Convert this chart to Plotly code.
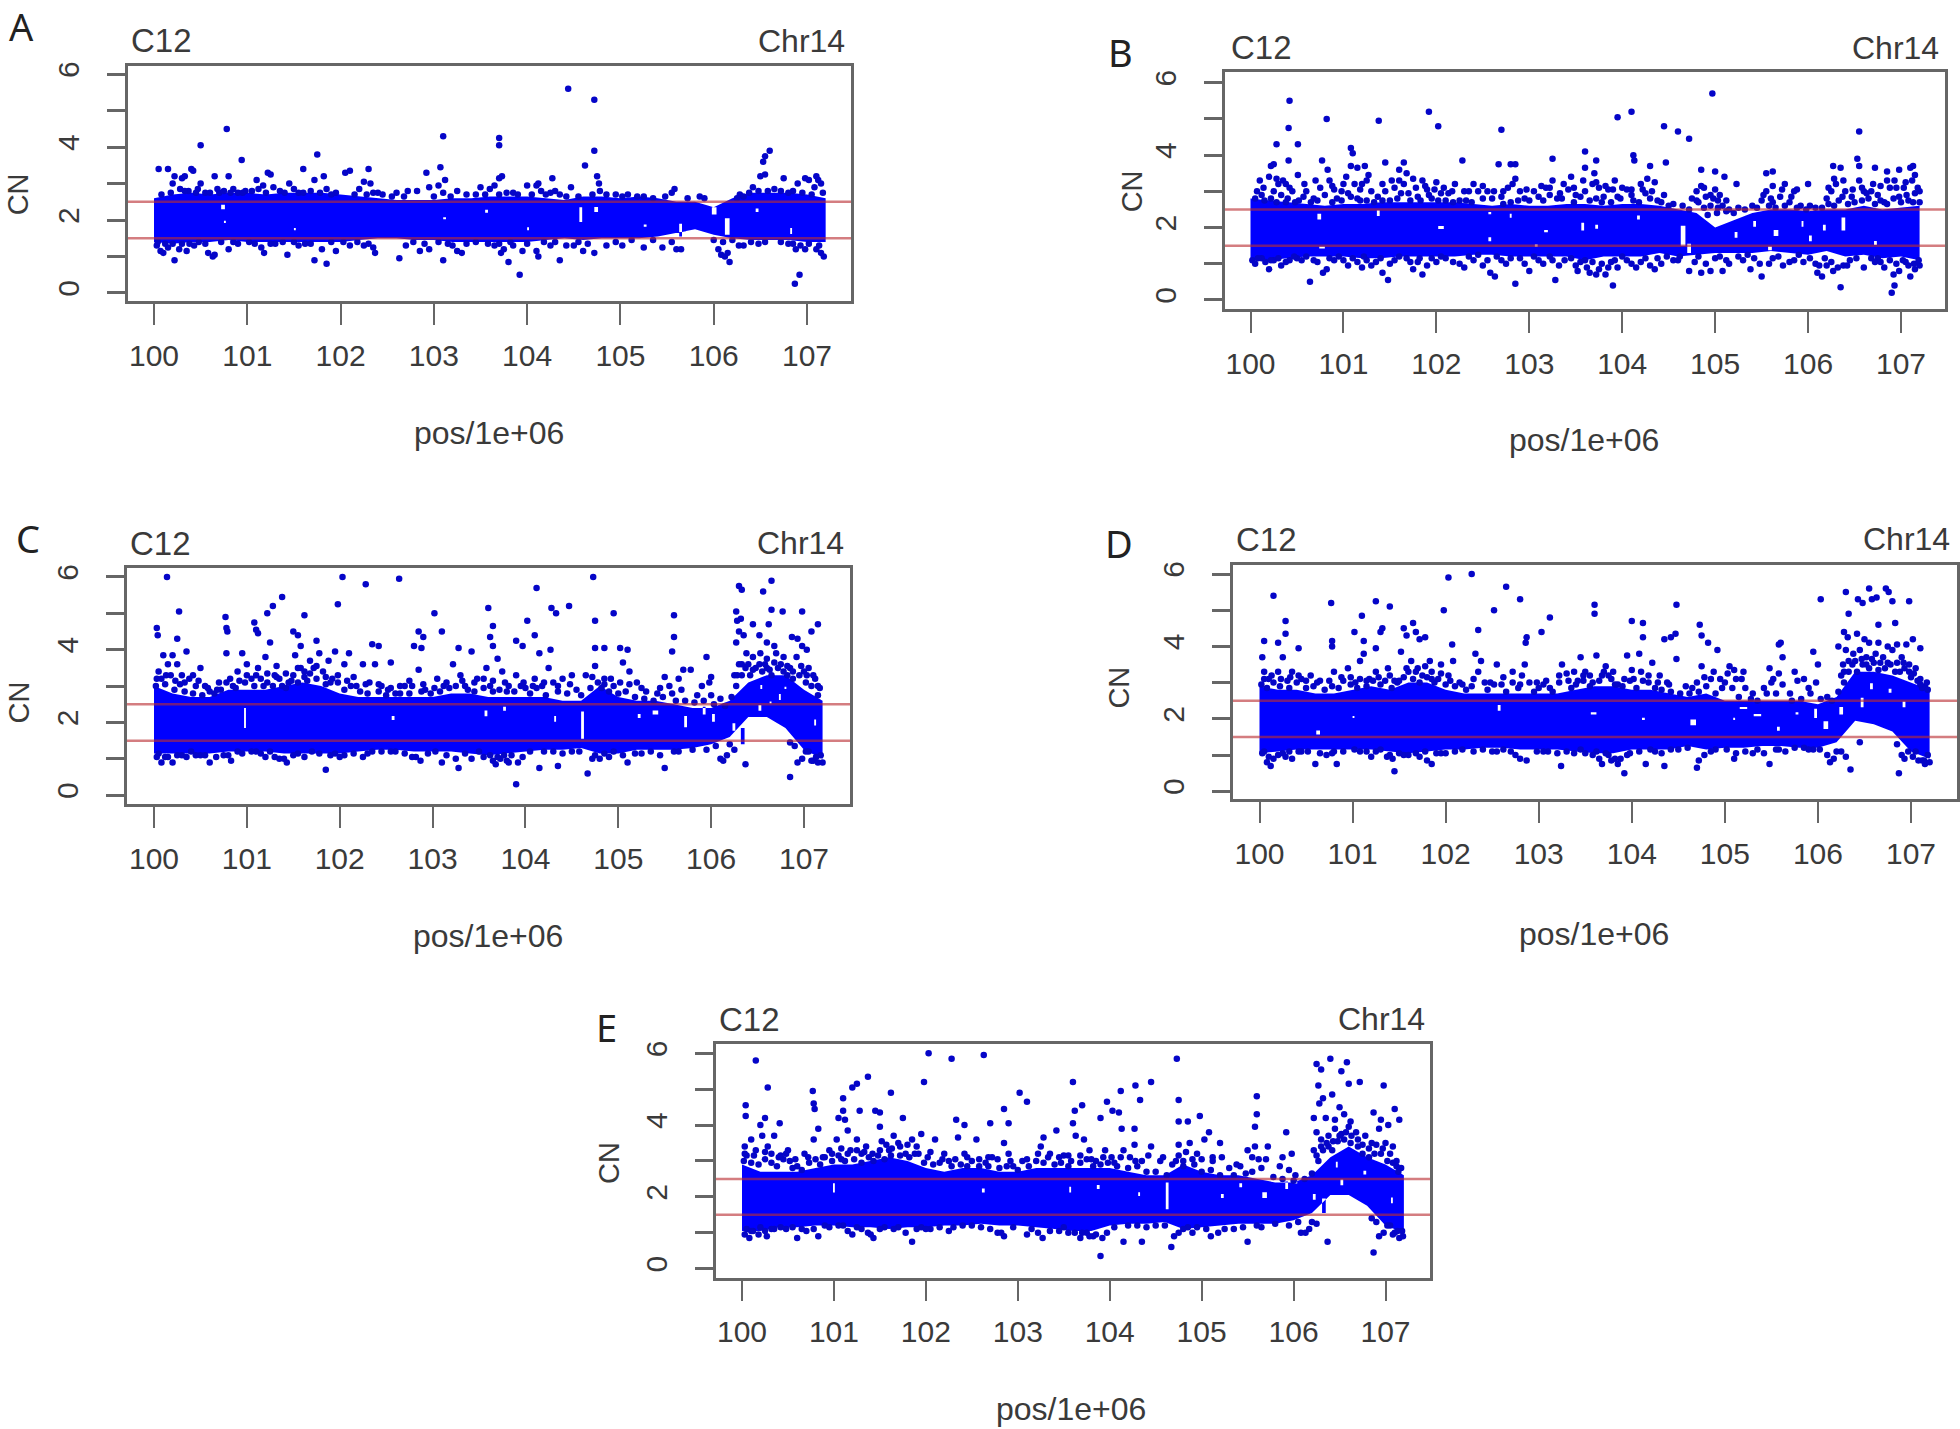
import plotly.graph_objects as go

PANELS = ["A", "B", "C", "D", "E"]
X_TICKS = [100, 101, 102, 103, 104, 105, 106, 107]
Y_TICKS = [0, 1, 2, 3, 4, 5, 6]
Y_TICK_TEXT = ["0", "", "2", "", "4", "", "6"]
THRESHOLDS = [1.5, 2.5]

# Solid core of each panel: too many overlapping points to read one by one,
# so its upper and lower edge were read at these positions.
BAND_X = [100.0,100.2,100.4,100.6,100.8,101.0,101.2,101.4,101.6,101.8,102.0,102.2,102.4,102.6,102.8,103.0,103.2,103.4,
          103.6,103.8,104.0,104.2,104.4,104.6,104.8,105.0,105.2,105.4,105.6,105.8,106.0,106.2,106.4,106.6,106.8,107.0,107.2]
A_hi = [2.6,2.7,2.75,2.7,2.75,2.75,2.7,2.75,2.75,2.75,2.7,2.65,2.6,2.55,2.55,2.55,2.6,2.6,2.65,2.65,2.65,2.6,2.55,2.65,2.65,2.6,2.65,2.6,2.5,2.5,2.35,2.6,2.75,2.75,2.75,2.7,2.6]
A_lo = [1.4,1.35,1.4,1.4,1.45,1.4,1.4,1.4,1.4,1.4,1.4,1.45,1.5,1.5,1.45,1.45,1.4,1.4,1.4,1.4,1.4,1.45,1.5,1.45,1.5,1.5,1.5,1.55,1.65,1.75,1.6,1.5,1.45,1.45,1.45,1.4,1.4]
B_hi = [2.8,2.75,2.7,2.65,2.6,2.65,2.65,2.7,2.7,2.7,2.7,2.7,2.65,2.6,2.65,2.6,2.6,2.65,2.65,2.6,2.65,2.65,2.6,2.5,2.4,2.0,2.2,2.4,2.5,2.5,2.45,2.5,2.5,2.6,2.5,2.55,2.6]
B_lo = [1.1,1.1,1.15,1.2,1.2,1.2,1.15,1.15,1.2,1.2,1.2,1.2,1.25,1.25,1.2,1.2,1.2,1.2,1.1,1.2,1.2,1.2,1.3,1.2,1.25,1.3,1.3,1.3,1.35,1.3,1.25,1.35,1.2,1.25,1.15,1.2,1.1]
C_hi = [3.0,2.8,2.7,2.7,2.9,2.9,2.9,3.0,3.1,3.0,2.8,2.7,2.7,2.7,2.7,2.7,2.8,2.8,2.7,2.7,2.7,2.7,2.6,2.6,3.0,2.7,2.6,2.6,2.5,2.4,2.4,2.6,3.1,3.3,3.3,2.9,2.6]
C_lo = [1.15,1.15,1.15,1.15,1.2,1.2,1.2,1.15,1.15,1.15,1.15,1.2,1.25,1.25,1.2,1.2,1.2,1.15,1.1,1.15,1.2,1.25,1.25,1.3,1.15,1.15,1.25,1.25,1.25,1.3,1.4,1.6,2.15,2.15,1.85,1.25,1.0]
D_hi = [2.9,2.8,2.8,2.7,2.7,2.8,2.9,2.8,3.0,3.0,2.8,2.7,2.7,2.7,2.7,2.7,2.7,2.8,2.9,2.9,2.8,2.8,2.7,2.6,2.7,2.5,2.5,2.5,2.5,2.5,2.4,2.6,3.3,3.3,3.2,3.0,2.8]
D_lo = [1.05,1.1,1.15,1.15,1.15,1.15,1.15,1.1,1.05,1.1,1.15,1.15,1.2,1.2,1.15,1.15,1.15,1.1,1.05,1.05,1.15,1.15,1.15,1.25,1.15,1.2,1.2,1.25,1.25,1.2,1.2,1.35,1.95,1.85,1.65,1.1,0.9]
E_hi = [2.9,2.7,2.7,2.7,2.8,2.9,2.9,3.0,3.1,3.0,2.8,2.7,2.8,2.8,2.7,2.7,2.8,2.8,2.8,2.8,2.8,2.7,2.6,2.6,2.9,2.7,2.6,2.6,2.5,2.4,2.4,2.6,3.1,3.4,3.1,2.9,2.6]
E_lo = [1.05,1.05,1.15,1.15,1.2,1.2,1.15,1.15,1.1,1.15,1.15,1.2,1.2,1.25,1.2,1.2,1.15,1.1,1.05,1.05,1.2,1.25,1.25,1.3,1.1,1.15,1.2,1.25,1.25,1.25,1.35,1.55,2.05,2.05,1.75,1.2,1.0]

# White gaps seen inside the core: (x left, x right, y low, y high)
A_gaps = [(105.63,105.66,1.55,1.9),(106.12,106.17,1.6,2.05),(104.56,104.59,1.95,2.35),(100.72,100.76,2.3,2.42),(105.98,106.03,2.15,2.35),(104.72,104.76,2.22,2.36),(103.55,103.58,2.2,2.28),(104.0,104.02,1.72,1.8),(103.1,103.13,2.02,2.08),(101.5,101.52,1.72,1.78),(100.75,100.77,1.92,1.98),(106.45,106.48,2.22,2.32),(106.82,106.84,1.62,1.78),(105.25,105.28,1.82,1.88)]
B_gaps = [(104.63,104.68,1.5,2.05),(104.7,104.74,1.3,1.55),(102.02,102.08,1.96,2.04),(100.72,100.76,2.22,2.38),(105.63,105.68,1.77,1.93),(106.36,106.4,1.92,2.28),(105.57,105.61,1.37,1.48),(103.16,103.2,1.87,1.93),(100.74,100.8,1.42,1.48),(101.36,101.39,2.32,2.48),(103.56,103.59,1.92,2.13),(103.71,103.74,1.97,2.08),(102.56,102.59,1.62,1.73),(102.56,102.59,2.37,2.43),(102.79,102.81,2.27,2.38),(106.01,106.04,1.62,1.78),(105.93,105.95,2.02,2.18),(105.21,105.24,1.72,1.88),(105.41,105.44,2.02,2.18),(106.71,106.74,1.52,1.63),(106.16,106.19,1.92,2.08),(103.06,103.09,1.47,1.53),(104.16,104.19,2.22,2.33)]
C_gaps = [(104.6,104.63,1.55,2.3),(100.97,100.99,1.85,2.4),(106.32,106.36,1.4,1.85),(106.23,106.26,1.77,1.98),(105.21,105.24,2.12,2.23),(105.37,105.43,2.22,2.33),(105.71,105.74,1.87,2.18),(105.91,105.94,2.22,2.43),(106.01,106.04,2.02,2.23),(102.56,102.59,2.07,2.18),(103.56,103.59,2.17,2.33),(103.76,103.79,2.32,2.43),(104.31,104.33,2.02,2.18),(106.51,106.54,2.32,2.48),(106.73,106.75,2.62,2.78),(106.53,106.55,2.92,3.03),(106.79,106.81,2.92,2.98),(106.63,106.65,2.52,2.58),(107.11,107.13,1.92,2.08)]
D_gaps = [(100.61,100.65,1.57,1.68),(103.56,103.62,2.12,2.18),(104.63,104.69,1.82,1.98),(105.16,105.24,2.27,2.33),(105.09,105.11,1.97,2.03),(105.31,105.39,2.07,2.13),(105.56,105.59,1.67,1.78),(105.76,105.79,2.12,2.18),(105.96,105.99,2.02,2.28),(106.06,106.11,1.72,1.93),(106.23,106.27,2.12,2.33),(106.46,106.49,2.32,2.58),(106.76,106.79,2.72,2.83),(106.56,106.59,2.82,2.98),(106.91,106.94,2.32,2.48),(102.56,102.59,2.22,2.38),(101.0,101.02,2.02,2.08),(104.11,104.14,1.97,2.03)]
E_gaps = [(104.61,104.64,1.65,2.4),(105.21,105.24,1.97,2.08),(105.41,105.44,2.27,2.38),(105.66,105.71,1.97,2.13),(105.91,105.94,2.22,2.43),(106.01,106.04,2.37,2.48),(106.21,106.24,1.92,2.08),(106.31,106.35,1.55,1.95),(106.51,106.54,2.32,2.48),(106.46,106.48,2.82,2.98),(106.76,106.79,2.62,2.73),(100.99,101.01,2.12,2.38),(103.56,103.58,2.12,2.28),(102.61,102.64,2.12,2.23),(103.86,103.89,2.22,2.33),(104.31,104.33,2.02,2.13),(107.06,107.08,1.82,1.98)]

# Separate points: (position / 1e6, CN)
A_pts = [(104.44,5.6),(104.72,5.3),(100.78,4.5),(103.1,4.3),(103.7,4.25),(103.7,4.05),(100.5,4.05),(104.72,3.9),(106.6,3.9),(106.55,3.75),(106.53,3.6),(101.75,3.8),(100.94,3.65),(103.07,3.45),(104.62,3.5),
(100.05,3.4),(100.15,3.4),(100.2,3.0),(100.22,3.2),(100.28,2.85),(100.3,3.15),(100.33,3.2),(100.4,3.4),(100.42,3.35),(100.37,2.8),(100.47,2.85),(100.5,3.0),(100.55,2.75),(100.65,3.2),(100.7,2.75),(100.75,2.8),(100.8,3.2),(100.85,2.85),(100.9,2.75),(100.98,2.8),(101.1,3.1),(101.12,2.85),(101.17,2.95),(101.22,3.3),(101.25,3.25),(101.28,2.9),(101.35,2.8),(101.45,3.0),(101.5,2.85),(101.55,2.75),(101.6,3.4),(101.72,3.1),(101.82,3.2),(101.85,2.85),(101.95,2.75),(102.05,3.3),(102.1,3.35),(102.2,2.85),(102.25,3.05),(102.3,3.4),(102.32,3.0),(102.35,2.75),(102.45,2.7),(102.6,2.75),(102.72,2.8),(102.82,2.8),(102.92,3.3),(102.95,2.9),(103.05,2.95),(103.12,3.1),(103.1,2.75),(103.25,2.8),(103.5,2.9),(103.6,2.85),(103.65,2.95),(103.7,3.15),(103.73,3.2),(103.78,2.75),(103.9,2.7),(104.0,2.95),(104.1,2.95),(104.12,3.0),(104.15,2.8),(104.27,3.15),(104.3,2.8),(104.25,2.75),(104.47,2.9),(104.55,2.65),(104.75,3.2),(104.77,3.0),(104.78,2.8),(104.95,2.7),(105.08,2.7),(105.25,2.65),(105.55,2.75),(105.58,2.85),(105.85,2.65),(106.28,2.7),(106.32,2.65),(106.42,2.9),(106.5,3.2),(106.55,3.25),(106.65,2.85),(106.75,3.15),(106.85,2.8),(106.9,3.0),(106.98,3.15),(107.02,3.1),(107.1,3.2),(107.12,3.1),(107.15,3.0),(107.08,2.9),(107.17,2.75),
(100.03,1.3),(100.07,1.15),(100.1,1.1),(100.15,1.25),(100.22,0.9),(100.27,1.2),(100.35,1.15),(100.43,1.3),(100.58,1.1),(100.63,1.0),(100.65,1.05),(100.8,1.2),(100.9,1.35),(101.15,1.25),(101.18,1.1),(101.3,1.35),(101.43,1.05),(101.55,1.3),(101.72,0.9),(101.85,0.8),(101.8,1.2),(101.95,1.15),(102.1,1.3),(102.25,1.3),(102.35,1.25),(102.37,1.1),(102.63,0.95),(102.7,1.3),(102.85,1.15),(102.95,1.2),(103.1,0.9),(103.2,1.3),(103.25,1.15),(103.3,1.1),(103.65,1.3),(103.72,1.1),(103.8,0.85),(103.75,1.2),(103.92,0.5),(103.85,1.3),(103.95,1.15),(104.1,1.15),(104.12,1.0),(104.25,1.3),(104.35,0.9),(104.42,1.3),(104.5,1.3),(104.6,1.15),(104.72,1.1),(104.85,1.3),(105.02,1.3),(105.25,1.25),(105.45,1.25),(105.6,1.2),(105.65,1.2),(106.05,1.2),(106.08,1.05),(106.12,1.0),(106.15,1.1),(106.17,0.85),(106.27,1.3),(106.32,1.3),(106.48,1.35),(106.8,1.35),(106.88,1.2),(106.93,1.3),(106.98,1.2),(106.87,0.25),(106.92,0.5),(107.1,1.2),(107.15,1.1),(107.18,1.0),
(100.08,2.7),(100.18,2.75),(100.33,2.8),(100.45,2.75),(100.6,2.75),(100.68,2.85),(100.82,2.75),(100.95,2.75),(101.05,2.8),(101.2,2.75),(101.4,2.75),(101.6,2.75),(101.68,2.8),(101.78,2.75),(101.9,2.7),(102.15,2.7),(102.28,2.7),(102.4,2.75),(102.55,2.65),(102.68,2.65),(103.0,2.65),(103.18,2.65),(103.35,2.7),(103.45,2.7),(103.55,2.7),(103.7,2.7),(103.85,2.75),(104.05,2.7),(104.2,2.7),(104.35,2.7),(104.42,2.65),(104.7,2.7),(104.85,2.7),(105.02,2.65),(105.18,2.65),(105.35,2.6),(105.48,2.65),(105.72,2.6),(105.9,2.6),(106.25,2.6),(106.38,2.75),(106.48,2.8),(106.58,2.8),(106.72,2.8),(106.8,2.75),(106.95,2.75),(107.05,2.7),
(100.04,1.4),(100.12,1.35),(100.2,1.35),(100.3,1.35),(100.38,1.35),(100.48,1.4),(100.55,1.35),(100.72,1.4),(100.85,1.4),(101.02,1.4),(101.08,1.35),(101.25,1.35),(101.38,1.4),(101.5,1.4),(101.62,1.35),(101.68,1.35),(101.9,1.4),(102.03,1.4),(102.18,1.4),(102.3,1.35),(102.78,1.4),(102.9,1.35),(103.05,1.4),(103.15,1.35),(103.35,1.35),(103.45,1.4),(103.58,1.35),(103.7,1.35),(103.82,1.4),(104.0,1.35),(104.18,1.4),(104.3,1.4),(104.55,1.4),(104.65,1.35),(104.95,1.4),(105.12,1.45),(105.35,1.45),(105.55,1.4),(106.0,1.45),(106.1,1.4),(106.2,1.45),(106.4,1.4),(106.55,1.4),(106.72,1.4),(106.85,1.35),(107.02,1.35),(107.13,1.3)]

B_pts = [(100.42,5.5),(100.41,4.75),(100.28,4.3),(100.51,4.3),(100.41,3.85),(100.22,3.7),(100.25,3.75),(100.51,3.45),(100.77,3.85),(100.82,5.0),(100.83,3.6),(101.08,4.2),(101.1,4.05),(101.08,3.7),(101.15,3.65),(101.23,3.7),(101.27,3.45),(101.38,4.95),(101.45,3.8),(101.65,3.8),(101.6,3.6),(101.92,5.2),(102.02,4.8),(102.28,3.85),(102.67,3.75),(102.7,4.7),(102.8,3.75),(102.85,3.75),(103.25,3.9),(103.6,4.1),(103.6,3.65),(103.72,3.85),(103.7,3.5),(103.95,5.05),(104.1,5.2),(104.12,4.0),(104.13,3.85),(104.3,3.7),(104.45,4.8),(104.47,3.8),(104.6,4.65),(104.72,4.45),(104.85,3.6),(104.97,5.7),(105.0,3.55),(105.1,3.4),(105.23,3.2),(105.55,3.5),(105.62,3.55),(105.75,3.2),(105.88,3.05),(106.0,3.2),(106.27,3.7),(106.35,3.65),(106.55,4.65),(106.53,3.9),(106.55,3.7),(106.72,3.65),(106.85,3.55),(106.98,3.6),(107.1,3.65),(107.13,3.7),(107.15,3.45),
(100.05,2.8),(100.07,3.0),(100.1,3.3),(100.15,2.75),(100.2,3.4),(100.25,3.0),(100.3,3.2),(100.33,2.9),(100.35,3.3),(100.42,3.1),(100.4,2.8),(100.45,3.0),(100.52,2.75),(100.6,3.0),(100.68,2.8),(100.75,3.1),(100.8,2.9),(100.85,3.3),(100.9,3.05),(100.93,2.8),(101.0,3.2),(101.05,2.95),(101.12,3.2),(101.15,2.8),(101.2,3.2),(101.3,3.0),(101.37,2.85),(101.45,3.0),(101.5,2.75),(101.55,3.1),(101.6,3.3),(101.65,3.2),(101.7,2.95),(101.75,3.35),(101.8,2.85),(101.85,3.3),(101.9,3.05),(101.95,2.8),(102.0,3.25),(102.05,2.95),(102.1,2.75),(102.2,3.2),(102.25,2.75),(102.3,3.0),(102.4,3.2),(102.45,3.0),(102.55,3.0),(102.6,2.8),(102.7,2.85),(102.77,3.1),(102.8,2.7),(102.85,3.35),(102.9,3.0),(102.95,2.8),(103.05,3.0),(103.1,2.85),(103.18,3.1),(103.25,3.3),(103.3,2.8),(103.37,3.2),(103.42,3.05),(103.45,3.4),(103.5,2.9),(103.6,3.0),(103.65,2.75),(103.68,3.2),(103.75,3.1),(103.8,2.85),(103.85,3.05),(103.92,3.3),(103.98,2.8),(104.05,3.05),(104.12,2.75),(104.2,3.2),(104.25,2.95),(104.27,3.35),(104.32,3.0),(104.38,2.75),(104.45,2.9),(104.55,2.65),(104.75,2.8),(104.8,3.0),(104.85,3.15),(104.9,2.85),(104.95,2.6),(105.0,3.05),(105.05,2.9),(105.08,2.6),(105.02,2.4),(104.92,2.35),(105.12,2.45),(105.25,2.55),(105.4,2.6),(105.5,2.75),(105.55,3.0),(105.6,2.8),(105.65,2.55),(105.7,2.85),(105.8,2.7),(105.85,3.0),(105.92,2.6),(106.02,2.6),(106.2,2.8),(106.25,3.0),(106.3,3.2),(106.33,2.75),(106.4,3.0),(106.5,2.7),(106.55,3.3),(106.6,3.0),(106.65,2.8),(106.7,3.2),(106.75,2.9),(106.82,2.7),(106.88,3.1),(106.93,3.3),(106.98,2.85),(107.03,3.1),(107.08,2.75),(107.12,3.3),(107.18,3.1),(107.2,2.7),
(100.02,1.1),(100.05,1.0),(100.12,1.15),(100.2,0.85),(100.25,1.1),(100.33,0.95),(100.42,1.1),(100.5,1.15),(100.64,0.5),(100.68,1.1),(100.78,0.75),(100.82,0.85),(100.9,1.1),(101.05,0.95),(101.1,1.15),(101.2,0.9),(101.25,1.1),(101.3,0.95),(101.42,0.75),(101.48,0.55),(101.5,1.0),(101.6,1.2),(101.75,0.85),(101.85,0.7),(101.8,1.05),(101.9,0.95),(102.0,1.05),(102.1,1.15),(102.25,1.0),(102.3,0.9),(102.4,1.1),(102.5,0.95),(102.58,0.75),(102.63,0.65),(102.7,1.1),(102.85,0.45),(102.8,1.15),(102.95,1.0),(103.0,0.8),(103.1,1.1),(103.25,1.1),(103.28,0.55),(103.32,0.95),(103.5,0.95),(103.52,0.8),(103.6,1.1),(103.65,0.75),(103.72,0.7),(103.78,1.0),(103.82,0.7),(103.9,0.4),(103.88,1.05),(103.95,0.9),(104.05,1.1),(104.15,0.9),(104.25,1.15),(104.35,0.85),(104.42,1.0),(104.55,1.1),(104.62,1.2),(104.72,0.8),(104.85,0.75),(104.9,1.0),(104.95,0.8),(105.0,1.15),(105.08,0.8),(105.15,1.0),(105.25,1.2),(105.38,0.85),(105.5,0.65),(105.48,1.0),(105.62,1.15),(105.73,0.95),(105.85,1.1),(105.95,1.05),(106.08,1.0),(106.1,0.75),(106.15,0.65),(106.2,0.95),(106.27,0.8),(106.35,0.35),(106.38,0.95),(106.45,1.1),(106.6,0.9),(106.75,1.15),(106.82,0.9),(106.9,0.2),(106.93,0.4),(106.92,0.7),(106.98,0.8),(107.05,1.05),(107.1,0.65),(107.15,0.85),(107.2,0.95),
(100.12,2.9),(100.22,2.8),(100.28,2.7),(100.38,2.7),(100.48,2.7),(100.57,2.85),(100.65,2.7),(100.72,2.75),(100.88,2.7),(100.98,2.75),(101.08,2.85),(101.18,2.75),(101.25,2.75),(101.33,2.7),(101.42,2.75),(101.58,2.8),(101.62,2.95),(101.72,2.75),(101.83,2.75),(101.92,2.9),(102.02,2.75),(102.13,2.95),(102.18,2.7),(102.32,2.75),(102.38,2.7),(102.5,2.8),(102.62,3.0),(102.72,2.65),(102.88,2.75),(103.0,2.75),(103.15,2.75),(103.22,2.9),(103.35,2.8),(103.48,2.7),(103.55,2.85),(103.72,2.8),(103.78,2.7),(103.88,2.7),(103.95,2.85),(104.1,2.9),(104.18,2.7),(104.3,2.8),(104.42,2.7),(104.5,2.6),(104.65,2.6),(104.72,2.5),(104.82,2.7),(104.88,2.55),(104.98,2.8),(105.03,2.55),(105.15,2.5),(105.2,2.4),(105.32,2.5),(105.45,2.55),(105.58,2.6),(105.62,2.7),(105.75,2.6),(105.88,2.55),(105.98,2.5),(106.08,2.55),(106.15,2.55),(106.22,2.65),(106.28,2.6),(106.37,2.85),(106.43,2.65),(106.47,2.85),(106.58,2.75),(106.63,2.95),(106.72,2.65),(106.78,2.75),(106.85,2.65),(106.92,2.8),(107.0,2.7),(107.06,2.9),(107.13,2.7),
(100.08,1.15),(100.16,1.05),(100.22,1.1),(100.3,1.15),(100.38,1.05),(100.47,1.2),(100.55,1.1),(100.6,1.2),(100.72,1.05),(100.85,1.15),(100.95,1.2),(101.0,1.1),(101.15,1.05),(101.22,1.2),(101.35,1.05),(101.4,1.15),(101.55,1.1),(101.68,1.15),(101.72,1.05),(101.82,1.15),(101.95,1.15),(102.05,1.2),(102.18,1.05),(102.35,1.2),(102.45,1.25),(102.55,1.1),(102.65,1.2),(102.75,1.0),(102.9,1.15),(103.05,1.2),(103.15,1.0),(103.22,1.2),(103.38,1.1),(103.45,1.15),(103.55,1.05),(103.62,0.9),(103.68,1.05),(103.75,0.85),(103.85,0.9),(103.92,1.1),(104.0,1.2),(104.1,1.0),(104.2,1.05),(104.3,0.95),(104.38,1.15),(104.48,1.2),(104.6,1.1),(104.78,1.05),(104.82,1.2),(105.05,1.2),(105.12,1.1),(105.3,1.1),(105.35,1.25),(105.42,1.15),(105.58,1.0),(105.68,1.2),(105.8,1.05),(105.9,1.25),(106.02,1.15),(106.12,0.95),(106.18,1.15),(106.25,1.05),(106.32,0.9),(106.42,0.95),(106.52,1.15),(106.68,1.15),(106.72,1.05),(106.78,1.05),(106.88,1.1),(106.95,1.0),(107.02,1.1),(107.08,0.95),(107.14,1.0),(107.19,1.1)]

C_pts = [(100.14,6.0),(102.03,6.0),(102.28,5.8),(102.64,5.95),(104.73,6.0),(106.56,5.6),(106.65,5.9),(106.3,5.75),(106.33,5.65),(104.12,5.7),(100.27,5.05),(101.38,5.45),(101.28,5.2),(101.22,5.0),(101.62,4.95),(101.98,5.25),(103.02,5.0),(103.6,5.15),(104.28,5.15),(104.33,5.0),(104.47,5.2),(104.75,4.8),(104.95,5.0),(105.6,4.95),(106.27,5.05),(106.32,4.85),(106.65,5.1),(106.77,5.05),(106.98,5.05),(100.03,4.6),(100.04,4.4),(100.77,4.9),(100.78,4.6),(100.79,4.5),(101.08,4.75),(101.1,4.55),(101.12,4.45),(100.25,4.3),(101.5,4.5),(101.55,4.4),(101.75,4.25),(101.58,4.1),(102.35,4.15),(102.42,4.1),(102.85,4.5),(102.9,4.35),(102.8,4.1),(102.88,4.05),(103.1,4.5),(103.65,4.65),(103.62,4.35),(103.65,4.1),(103.9,4.25),(103.97,4.1),(104.02,4.8),(104.1,4.4),(104.15,3.9),(104.27,4.0),(104.75,4.05),(104.85,4.05),(105.02,4.05),(105.1,4.0),(105.6,4.35),(105.58,3.95),(106.28,4.8),(106.3,4.5),(106.27,4.2),(106.35,4.4),(106.45,4.7),(106.52,4.4),(106.62,4.7),(106.6,4.2),(106.68,4.1),(106.87,4.35),(106.93,4.3),(106.98,4.1),(107.03,4.0),(107.08,4.5),(107.15,4.7),
(100.05,3.4),(100.08,3.2),(100.1,3.85),(100.15,3.6),(100.2,3.85),(100.18,3.3),(100.25,3.6),(100.3,3.3),(100.35,3.95),(100.38,3.2),(100.45,3.0),(100.5,3.5),(100.55,3.0),(100.6,2.85),(100.7,3.1),(100.78,3.9),(100.82,3.2),(100.85,3.0),(100.9,3.4),(100.95,3.9),(101.0,3.6),(101.05,3.2),(101.12,3.5),(101.18,3.0),(101.2,3.8),(101.25,4.2),(101.3,3.3),(101.32,3.55),(101.38,3.0),(101.45,3.1),(101.52,3.85),(101.58,3.5),(101.62,3.25),(101.68,3.7),(101.72,3.5),(101.78,3.9),(101.82,3.4),(101.88,3.7),(101.92,3.2),(101.95,3.95),(102.05,3.6),(102.1,3.9),(102.18,3.0),(102.25,3.6),(102.32,3.1),(102.38,3.6),(102.45,3.0),(102.52,2.9),(102.55,3.65),(102.6,2.8),(102.7,3.0),(102.78,3.0),(102.85,3.45),(102.92,2.9),(103.05,3.2),(103.12,3.0),(103.22,3.6),(103.28,4.05),(103.3,3.3),(103.35,3.0),(103.42,3.95),(103.48,3.2),(103.58,3.5),(103.62,3.0),(103.7,3.75),(103.75,3.4),(103.82,3.0),(103.9,3.3),(104.0,2.95),(104.1,3.2),(104.18,3.0),(104.25,3.5),(104.3,3.1),(104.4,3.2),(104.5,3.3),(104.55,2.9),(104.65,3.3),(104.75,3.55),(104.78,3.1),(104.85,3.2),(104.95,3.0),(105.05,3.65),(105.12,3.4),(105.2,3.1),(105.3,2.85),(105.42,2.8),(105.5,3.25),(105.55,3.0),(105.65,3.2),(105.7,3.45),(105.78,3.45),(105.9,3.0),(105.98,3.1),(106.0,3.25),(105.95,3.8),(106.0,2.75),(106.1,2.65),(106.25,3.3),(106.3,3.6),(106.38,3.9),(106.45,3.8),(106.53,3.9),(106.6,3.75),(106.7,3.9),(106.78,3.8),(106.85,3.5),(106.92,3.8),(107.0,3.4),(107.05,3.5),(107.12,3.2),(107.15,3.0),
(100.05,1.15),(100.08,0.9),(100.12,1.05),(100.2,0.9),(100.3,1.1),(100.4,1.2),(100.5,1.1),(100.6,0.9),(100.75,1.1),(100.83,0.95),(100.9,1.2),(101.1,1.2),(101.2,1.05),(101.25,1.2),(101.35,1.0),(101.43,0.9),(101.55,1.15),(101.7,1.2),(101.85,0.7),(101.95,1.15),(102.05,1.1),(102.25,1.05),(102.35,1.2),(102.6,1.2),(102.82,1.05),(102.87,0.95),(103.03,1.2),(103.1,0.9),(103.25,1.0),(103.28,0.75),(103.5,1.2),(103.62,1.1),(103.68,0.85),(103.73,1.0),(103.77,1.1),(103.82,0.9),(103.9,0.3),(103.92,0.9),(104.15,0.75),(104.35,0.8),(104.3,1.2),(104.5,1.2),(104.67,0.6),(104.72,1.0),(104.85,1.15),(104.95,1.2),(105.1,0.9),(105.25,1.15),(105.5,0.75),(105.6,1.2),(106.1,1.0),(106.13,0.95),(106.17,1.1),(106.25,1.25),(106.37,0.85),(106.85,0.5),(106.93,0.9),(106.98,1.0),(107.05,1.2),(107.1,0.95),(107.15,0.9),(107.18,1.1),
(100.02,3.0),(100.12,3.05),(100.22,2.9),(100.28,3.05),(100.33,2.85),(100.42,2.8),(100.52,2.75),(100.65,2.8),(100.72,2.9),(100.88,2.95),(100.98,3.1),(101.08,3.0),(101.15,3.2),(101.22,3.1),(101.28,3.0),(101.35,3.2),(101.42,2.95),(101.48,3.15),(101.55,3.1),(101.65,3.15),(101.75,3.2),(101.85,3.05),(101.9,3.1),(101.98,3.1),(102.05,2.9),(102.12,3.0),(102.22,2.85),(102.3,2.8),(102.42,2.85),(102.5,2.75),(102.65,2.8),(102.75,2.8),(102.88,2.85),(102.98,2.8),(103.08,2.85),(103.18,2.95),(103.25,3.0),(103.38,2.9),(103.45,2.85),(103.55,2.95),(103.65,2.85),(103.72,2.9),(103.8,2.85),(103.88,2.85),(103.95,3.0),(104.05,2.8),(104.12,2.95),(104.22,2.75),(104.35,2.85),(104.45,2.8),(104.6,2.75),(104.7,2.95),(104.82,2.95),(104.9,2.85),(105.0,2.8),(105.08,2.85),(105.18,2.7),(105.28,2.65),(105.38,2.6),(105.48,2.7),(105.58,2.8),(105.62,2.6),(105.72,2.6),(105.82,2.55),(105.92,2.6),(106.03,2.5),(106.15,2.45),(106.22,2.7),(106.27,3.0),(106.33,3.3),(106.37,3.5),(106.42,3.3),(106.48,3.5),(106.55,3.4),(106.6,3.5),(106.65,3.3),(106.72,3.5),(106.78,3.4),(106.82,3.3),(106.88,3.2),(106.95,3.3),(107.02,3.1),(107.08,3.0),(107.15,2.75),
(100.03,1.05),(100.15,1.05),(100.25,1.1),(100.35,1.05),(100.45,1.1),(100.55,1.1),(100.67,1.05),(100.8,1.1),(100.95,1.15),(101.05,1.2),(101.15,1.15),(101.3,1.05),(101.4,1.0),(101.5,1.1),(101.62,1.05),(101.78,1.15),(101.9,1.1),(102.0,1.05),(102.15,1.15),(102.3,1.15),(102.45,1.2),(102.55,1.2),(102.7,1.15),(102.78,1.05),(102.95,1.15),(103.15,1.1),(103.35,1.15),(103.42,1.0),(103.55,1.05),(103.65,0.95),(103.7,1.05),(103.8,0.95),(103.85,1.1),(103.97,1.05),(104.05,1.2),(104.2,1.2),(104.4,1.15),(104.58,1.2),(104.75,1.1),(104.8,1.0),(104.9,1.05),(105.05,1.1),(105.18,1.15),(105.35,1.2),(105.45,1.1),(105.65,1.2),(105.8,1.25),(105.95,1.25),(106.05,1.35),(106.2,1.4),(106.85,1.45),(106.9,1.35),(107.02,1.2),(107.08,0.95),(107.13,1.05),(107.2,0.9)]

D_pts = [(102.28,6.0),(102.03,5.9),(102.65,5.65),(100.15,5.4),(100.77,5.2),(101.25,5.25),(101.4,5.1),(101.98,5.0),(102.52,5.0),(102.8,5.3),(103.6,5.15),(103.6,4.9),(104.48,5.15),(106.03,5.3),(106.3,5.5),(106.55,5.6),(106.73,5.6),(106.76,5.5),(106.43,5.3),(106.48,5.2),(106.58,5.3),(106.63,5.35),(106.8,5.25),(106.98,5.25),(100.28,4.7),(100.28,4.35),(101.1,4.85),(103.12,4.8),(104.0,4.7),(104.12,4.65),(104.73,4.6),(106.33,4.9),(106.65,4.6),(106.83,4.65),(100.05,4.15),(100.2,4.1),(100.42,3.95),(100.78,4.15),(100.78,4.0),(101.02,4.4),(101.12,4.15),(101.25,3.95),(101.3,4.4),(101.32,4.5),(101.55,4.5),(101.58,4.3),(101.65,4.65),(101.68,4.4),(101.72,4.2),(101.78,4.25),(102.07,4.05),(102.35,4.45),(102.87,4.25),(102.86,4.1),(103.03,4.4),(104.12,4.25),(104.35,4.2),(104.42,4.25),(104.47,4.35),(104.75,4.3),(104.82,4.1),(105.58,4.05),(105.6,4.1),(106.22,4.0),(106.28,4.4),(106.32,4.25),(106.42,4.35),(106.5,4.2),(106.55,4.1),(106.65,4.1),(106.75,4.0),(106.85,4.05),(106.95,4.05),(107.02,4.2),(107.1,3.95),
(100.03,3.7),(100.05,3.3),(100.1,3.1),(100.2,3.3),(100.25,3.7),(100.3,3.05),(100.35,3.3),(100.45,3.1),(100.55,3.2),(100.65,3.05),(100.8,3.3),(100.9,3.05),(100.95,3.4),(101.03,3.0),(101.08,3.6),(101.12,3.8),(101.18,3.1),(101.25,3.3),(101.35,3.05),(101.38,3.4),(101.48,3.0),(101.52,3.85),(101.6,3.3),(101.63,3.6),(101.7,3.4),(101.75,3.2),(101.83,3.6),(101.88,3.0),(101.95,3.5),(102.03,3.2),(102.08,3.6),(102.15,3.0),(102.32,3.8),(102.38,3.6),(102.35,3.3),(102.42,3.0),(102.55,3.5),(102.6,2.95),(102.72,3.0),(102.82,3.2),(102.85,3.5),(102.9,3.0),(103.05,2.95),(103.12,2.85),(103.25,3.5),(103.3,3.25),(103.42,3.05),(103.45,3.7),(103.5,3.3),(103.58,3.0),(103.62,3.75),(103.7,3.3),(103.78,3.1),(103.85,2.95),(103.95,3.75),(104.0,3.35),(104.08,3.8),(104.12,3.05),(104.22,3.55),(104.28,3.0),(104.38,3.0),(104.48,3.65),(104.58,2.9),(104.7,3.0),(104.75,3.45),(104.85,3.1),(104.92,3.9),(105.0,3.0),(105.05,3.45),(105.12,3.1),(105.2,3.3),(105.22,2.85),(105.3,2.7),(105.48,3.4),(105.52,3.1),(105.62,3.7),(105.7,2.7),(105.75,3.3),(105.85,3.1),(105.95,3.85),(105.98,3.0),(106.0,3.5),(106.1,2.6),(106.25,3.2),(106.27,3.5),(106.3,3.9),(106.38,3.8),(106.45,3.9),(106.52,3.7),(106.62,3.8),(106.7,3.7),(106.8,3.9),(106.9,3.7),(106.98,3.5),(107.05,3.4),(107.1,3.1),(107.15,2.9),
(100.05,1.1),(100.08,0.8),(100.12,0.7),(100.2,1.0),(100.28,0.95),(100.35,0.9),(100.45,1.1),(100.6,0.75),(100.72,1.0),(100.83,0.75),(100.8,1.1),(101.02,1.15),(101.2,0.95),(101.3,1.15),(101.37,0.95),(101.43,0.9),(101.45,0.55),(101.55,1.0),(101.68,1.05),(101.8,0.85),(101.85,0.75),(101.95,1.05),(102.1,1.1),(102.3,1.1),(102.55,1.1),(102.62,1.15),(102.8,0.9),(102.87,0.85),(103.1,1.1),(103.2,1.05),(103.24,0.7),(103.45,1.15),(103.62,1.1),(103.68,0.75),(103.75,1.0),(103.82,0.9),(103.85,0.75),(103.92,0.5),(103.95,1.0),(104.15,0.75),(104.25,1.1),(104.35,0.7),(104.5,1.15),(104.7,0.65),(104.72,0.85),(104.9,1.15),(105.1,0.9),(105.22,1.1),(105.3,1.05),(105.48,0.75),(105.58,1.15),(105.85,1.2),(105.95,1.15),(106.1,1.0),(106.13,0.8),(106.17,0.9),(106.25,1.1),(106.35,0.6),(106.45,1.35),(106.87,0.5),(106.9,1.0),(106.93,0.9),(107.05,1.1),(107.12,0.85),(107.15,0.75),(107.18,1.0),
(100.02,2.95),(100.08,2.85),(100.15,3.0),(100.22,2.9),(100.32,2.85),(100.4,3.0),(100.5,2.85),(100.58,2.9),(100.7,2.8),(100.78,2.9),(100.85,2.85),(100.98,2.95),(101.05,2.85),(101.15,2.9),(101.22,3.05),(101.3,2.95),(101.42,2.85),(101.5,3.05),(101.55,3.15),(101.65,3.1),(101.72,3.0),(101.8,3.15),(101.85,3.3),(101.92,3.1),(102.0,2.95),(102.1,2.9),(102.22,2.8),(102.28,2.9),(102.45,2.8),(102.52,2.95),(102.65,2.75),(102.78,2.85),(102.95,2.75),(103.0,2.85),(103.15,2.75),(103.22,3.0),(103.35,2.85),(103.4,2.95),(103.48,3.05),(103.55,2.9),(103.65,3.05),(103.75,3.2),(103.82,2.95),(103.9,2.9),(103.98,3.05),(104.05,2.85),(104.18,3.0),(104.25,2.85),(104.32,2.8),(104.42,2.75),(104.52,2.7),(104.62,2.7),(104.72,2.75),(104.8,2.9),(104.9,2.7),(104.97,2.85),(105.08,2.85),(105.15,2.6),(105.28,2.55),(105.35,2.5),(105.45,2.7),(105.55,2.7),(105.62,2.95),(105.72,2.5),(105.82,2.55),(105.92,2.7),(106.03,2.55),(106.15,2.5),(106.22,2.75),(106.28,3.0),(106.33,3.3),(106.37,3.5),(106.42,3.3),(106.48,3.5),(106.55,3.4),(106.6,3.55),(106.65,3.35),(106.72,3.4),(106.78,3.5),(106.83,3.3),(106.88,3.3),(106.93,3.4),(107.0,3.15),(107.07,3.05),(107.12,2.85),(107.18,2.8),
(100.03,1.05),(100.1,0.95),(100.15,0.9),(100.25,1.05),(100.32,1.1),(100.42,1.1),(100.52,1.1),(100.65,1.05),(100.78,1.05),(100.9,1.1),(101.08,1.1),(101.15,1.1),(101.25,1.1),(101.4,1.0),(101.5,1.05),(101.6,1.0),(101.72,0.95),(101.78,1.1),(101.9,1.05),(102.0,1.05),(102.18,1.15),(102.4,1.15),(102.5,1.1),(102.7,1.1),(102.75,1.0),(102.98,1.1),(103.05,1.1),(103.3,1.1),(103.38,1.05),(103.5,1.05),(103.58,1.0),(103.65,0.9),(103.72,1.05),(103.78,0.85),(103.88,0.9),(103.98,1.05),(104.08,1.1),(104.2,1.15),(104.32,1.05),(104.42,1.15),(104.6,1.2),(104.78,1.0),(104.85,1.1),(105.02,1.15),(105.12,1.05),(105.35,1.15),(105.42,1.05),(105.55,1.15),(105.65,1.1),(105.75,1.2),(105.9,1.15),(106.02,1.15),(106.2,1.1),(106.3,0.95),(106.85,1.3),(106.97,1.1),(107.02,0.95),(107.08,0.85),(107.14,0.85),(107.2,0.8)]

E_pts = [(100.15,5.8),(102.03,6.0),(102.28,5.85),(102.63,5.95),(104.73,5.85),(106.25,5.7),(106.3,5.55),(106.4,5.85),(106.52,5.5),(106.58,5.75),(106.6,5.15),(106.72,5.2),(100.28,5.05),(100.77,4.95),(101.37,5.35),(101.25,5.15),(101.2,5.05),(101.62,4.9),(101.98,5.2),(103.02,4.9),(103.1,4.65),(103.6,5.2),(104.12,4.95),(104.28,5.1),(104.33,4.7),(104.45,5.2),(104.75,4.7),(105.6,4.8),(106.27,5.1),(106.32,4.75),(106.42,4.85),(106.98,5.1),(100.04,4.55),(100.04,4.25),(100.25,4.2),(100.41,4.05),(100.78,4.6),(100.79,4.45),(100.83,3.9),(101.1,4.75),(101.05,4.2),(101.1,4.4),(101.12,4.15),(101.15,3.85),(101.28,4.4),(101.45,4.4),(101.5,4.35),(101.5,3.95),(101.75,4.2),(102.33,4.15),(102.42,4.0),(102.7,4.05),(102.85,4.45),(102.9,4.05),(103.62,4.4),(103.7,4.55),(103.6,4.05),(103.9,4.2),(103.97,4.65),(104.03,4.4),(104.1,4.35),(104.13,3.9),(104.27,3.9),(104.75,4.1),(104.85,4.1),(104.98,4.25),(105.6,4.3),(105.58,3.95),(106.22,4.2),(106.28,4.6),(106.35,4.2),(106.45,4.15),(106.5,4.5),(106.55,4.3),(106.62,4.1),(106.87,4.35),(106.95,4.15),(107.03,4.0),(107.1,4.45),(107.15,4.15),
(100.03,3.4),(100.05,3.15),(100.1,3.6),(100.15,3.3),(100.2,4.0),(100.22,3.7),(100.28,3.4),(100.35,3.7),(100.4,3.1),(100.5,3.3),(100.52,3.0),(100.6,2.85),(100.68,3.2),(100.78,3.6),(100.8,3.05),(100.9,3.1),(100.95,3.3),(101.03,3.6),(101.08,3.05),(101.18,3.3),(101.25,3.6),(101.3,3.2),(101.35,3.4),(101.43,3.0),(101.52,3.55),(101.6,3.3),(101.65,3.7),(101.7,3.5),(101.78,3.2),(101.85,3.6),(101.9,3.4),(101.95,3.75),(102.02,3.1),(102.1,3.6),(102.2,3.2),(102.25,3.0),(102.35,3.65),(102.42,3.2),(102.5,3.0),(102.55,3.6),(102.65,2.95),(102.72,3.1),(102.85,3.5),(102.9,3.2),(102.95,2.85),(103.05,3.0),(103.2,3.0),(103.25,3.4),(103.28,3.65),(103.33,3.1),(103.42,3.85),(103.5,3.15),(103.58,3.0),(103.63,3.7),(103.72,3.6),(103.78,3.3),(103.85,3.0),(103.95,3.3),(104.05,2.95),(104.15,3.3),(104.22,3.1),(104.27,3.45),(104.35,3.0),(104.45,3.4),(104.55,3.0),(104.68,2.9),(104.75,3.45),(104.8,3.0),(104.87,3.5),(104.95,3.2),(105.03,3.6),(105.08,3.8),(105.12,3.1),(105.2,3.5),(105.3,2.8),(105.42,2.85),(105.5,3.3),(105.58,3.4),(105.62,3.05),(105.72,3.4),(105.88,3.1),(105.92,3.8),(105.98,3.2),(105.95,2.75),(106.02,2.6),(106.22,3.3),(106.25,3.8),(106.3,3.6),(106.38,3.4),(106.45,3.9),(106.52,3.75),(106.6,3.95),(106.68,3.8),(106.78,3.7),(106.85,3.5),(106.93,3.9),(107.0,3.5),(107.08,3.4),(107.12,3.0),(107.17,2.8),
(100.05,1.1),(100.08,0.85),(100.12,1.05),(100.2,1.15),(100.27,0.9),(100.35,1.1),(100.42,1.15),(100.6,0.85),(100.7,1.05),(100.83,0.9),(100.9,1.2),(101.1,1.2),(101.2,0.95),(101.25,1.15),(101.37,1.0),(101.43,0.85),(101.55,1.15),(101.7,1.15),(101.85,0.75),(101.95,1.15),(102.05,1.1),(102.25,1.05),(102.4,1.2),(102.6,1.15),(102.78,1.0),(102.85,0.9),(103.1,0.95),(103.22,1.0),(103.27,0.85),(103.5,1.15),(103.62,1.0),(103.68,0.85),(103.75,1.0),(103.82,0.9),(103.9,0.35),(103.92,0.85),(104.15,0.75),(104.35,0.75),(104.3,1.2),(104.5,1.2),(104.67,0.6),(104.7,0.9),(104.85,1.15),(104.95,1.15),(105.1,0.9),(105.25,1.1),(105.5,0.75),(105.6,1.2),(106.08,1.0),(106.13,1.0),(106.17,1.1),(106.25,1.25),(106.37,0.75),(106.87,0.45),(106.93,0.9),(106.98,1.0),(107.05,1.2),(107.1,1.0),(107.15,0.85),(107.18,1.05),
(100.02,3.0),(100.1,2.95),(100.18,2.9),(100.25,3.05),(100.32,2.95),(100.38,2.85),(100.45,3.05),(100.55,2.8),(100.65,2.75),(100.73,2.95),(100.85,2.9),(100.98,3.0),(101.05,3.15),(101.12,3.0),(101.22,3.05),(101.3,2.95),(101.38,3.1),(101.48,3.15),(101.55,3.05),(101.62,3.15),(101.72,3.15),(101.82,3.1),(101.88,3.2),(101.98,2.95),(102.08,2.9),(102.15,2.95),(102.28,2.85),(102.38,2.9),(102.45,2.85),(102.58,2.85),(102.68,2.85),(102.8,2.8),(102.88,2.85),(103.0,2.75),(103.12,2.85),(103.28,2.95),(103.4,2.9),(103.47,2.95),(103.55,2.85),(103.68,2.95),(103.75,3.05),(103.82,2.85),(103.9,2.9),(103.98,2.95),(104.08,2.85),(104.2,2.8),(104.3,2.85),(104.4,2.7),(104.5,2.7),(104.62,2.6),(104.72,3.0),(104.8,2.85),(104.92,2.9),(105.0,2.7),(105.1,2.75),(105.2,2.6),(105.35,2.6),(105.48,2.65),(105.55,2.7),(105.65,2.8),(105.78,2.55),(105.88,2.5),(106.0,2.45),(106.12,2.5),(106.2,2.65),(106.27,3.0),(106.32,3.3),(106.36,3.5),(106.42,3.3),(106.48,3.55),(106.55,3.6),(106.62,3.5),(106.7,3.4),(106.75,3.2),(106.82,3.1),(106.88,3.2),(106.95,3.2),(107.02,3.0),(107.08,2.95),(107.14,2.7),
(100.03,0.95),(100.1,1.05),(100.18,0.95),(100.25,1.05),(100.32,1.1),(100.48,1.1),(100.55,1.15),(100.65,1.1),(100.78,1.1),(100.95,1.15),(101.05,1.2),(101.15,1.05),(101.3,1.1),(101.4,0.95),(101.5,1.1),(101.65,1.1),(101.78,1.0),(101.9,1.1),(102.0,1.1),(102.15,1.15),(102.3,1.15),(102.5,1.2),(102.7,1.1),(102.82,1.0),(102.95,1.15),(103.15,1.1),(103.35,1.05),(103.45,1.05),(103.55,1.0),(103.7,1.0),(103.78,0.9),(103.85,0.95),(103.97,1.0),(104.05,1.15),(104.2,1.2),(104.4,1.15),(104.6,1.2),(104.75,1.0),(104.8,1.1),(104.9,1.0),(105.05,1.1),(105.18,1.0),(105.35,1.1),(105.45,1.15),(105.65,1.15),(105.8,1.25),(105.95,1.2),(106.05,1.3),(106.2,1.3),(106.85,1.4),(106.9,1.3),(107.02,1.2),(107.08,0.95),(107.13,1.05),(107.19,0.9)]

# Further points of the loose speckle just above the core
B_more = [(100.14,3.1),(100.28,3.35),(100.38,3.2),(100.58,3.2),(100.7,3.3),(100.88,3.15),(100.98,3.0),(101.03,3.4),(101.18,3.05),(101.25,3.3),(101.42,3.2),(101.52,3.3),(101.68,3.5),(101.78,3.1),(101.88,3.15),(101.98,3.05),(102.08,3.1),(102.17,3.0),(102.35,3.0),(102.5,3.15),(102.72,3.0),(102.82,3.2),(102.97,3.05),(103.13,3.15),(103.22,3.1),(103.33,2.95),(103.48,3.1),(103.58,3.3),(103.72,3.25),(103.82,3.15),(103.9,3.05),(104.0,3.1),(104.1,3.05),(104.22,3.05),(104.35,3.25),(104.8,2.75),(104.88,3.1),(104.95,2.9),(105.03,2.75),(105.12,2.75),(105.52,2.9),(105.62,3.15),(105.72,3.05),(105.82,2.85),(106.22,3.1),(106.28,3.35),(106.38,3.3),(106.48,3.05),(106.58,3.1),(106.68,3.0),(106.78,3.15),(106.85,3.3),(106.95,3.1),(107.05,3.25),(107.15,2.95),(107.2,3.0)]
C_more = [(100.03,3.2),(100.13,3.3),(100.23,3.15),(100.33,3.1),(100.42,3.3),(100.48,3.15),(100.58,2.95),(100.68,2.9),(100.78,3.1),(100.92,3.15),(101.0,3.3),(101.1,3.3),(101.22,3.35),(101.32,3.25),(101.42,3.35),(101.5,3.3),(101.55,3.5),(101.62,3.4),(101.68,3.35),(101.75,3.55),(101.85,3.25),(101.98,3.3),(102.08,3.15),(102.15,3.25),(102.28,3.05),(102.42,3.05),(102.55,2.95),(102.65,3.0),(102.75,3.15),(102.9,3.05),(103.02,2.95),(103.15,3.1),(103.32,3.15),(103.45,3.1),(103.55,3.2),(103.65,3.15),(103.78,3.1),(103.98,3.1),(104.08,3.0),(104.2,3.1),(104.35,3.0),(104.48,3.05),(104.72,3.25),(104.85,3.05),(104.92,3.2),(105.02,3.1),(105.12,3.05),(105.25,2.95),(105.45,2.95),(105.68,2.9),(105.85,2.75),(106.28,3.3),(106.33,3.6),(106.4,3.6),(106.45,3.45),(106.52,3.6),(106.58,3.6),(106.63,3.45),(106.68,3.65),(106.75,3.6),(106.82,3.55),(106.88,3.4),(106.97,3.55),(107.03,3.3),(107.1,3.3),(107.17,2.95)]
D_more = [(100.05,3.1),(100.13,3.2),(100.23,3.1),(100.33,3.15),(100.42,3.2),(100.5,3.05),(100.62,3.0),(100.75,3.05),(100.88,3.15),(100.98,3.15),(101.08,3.1),(101.15,3.05),(101.28,3.15),(101.4,3.2),(101.45,3.05),(101.58,3.4),(101.68,3.3),(101.78,3.45),(101.85,3.1),(101.95,3.25),(102.05,3.05),(102.18,2.95),(102.3,3.1),(102.48,3.0),(102.62,3.15),(102.72,3.3),(102.8,2.95),(102.98,3.0),(103.08,3.05),(103.22,3.2),(103.32,3.05),(103.38,3.3),(103.48,3.2),(103.55,3.2),(103.68,3.2),(103.72,3.45),(103.8,3.3),(103.92,3.1),(104.02,3.1),(104.1,3.3),(104.18,3.2),(104.3,3.2),(104.4,2.95),(104.65,2.85),(104.78,3.15),(104.88,3.3),(104.95,3.1),(105.03,3.25),(105.1,3.35),(105.18,3.1),(105.42,2.85),(105.5,3.0),(105.58,3.25),(105.78,3.05),(105.9,2.85),(106.28,3.3),(106.33,3.6),(106.4,3.6),(106.47,3.65),(106.52,3.5),(106.58,3.65),(106.67,3.55),(106.75,3.55),(106.85,3.55),(106.92,3.55),(106.98,3.3),(107.03,3.25),(107.1,2.95),(107.17,3.0)]
E_more = [(100.03,3.2),(100.13,3.15),(100.25,3.25),(100.32,3.2),(100.42,3.15),(100.48,3.2),(100.58,3.05),(100.72,3.1),(100.88,3.1),(100.98,3.2),(101.08,3.35),(101.15,3.2),(101.25,3.3),(101.33,3.25),(101.42,3.2),(101.5,3.3),(101.57,3.45),(101.63,3.35),(101.72,3.4),(101.8,3.45),(101.92,3.2),(102.05,3.25),(102.18,3.05),(102.32,3.05),(102.45,3.1),(102.58,3.05),(102.68,3.1),(102.78,3.05),(102.92,3.0),(103.1,3.05),(103.22,3.2),(103.35,3.2),(103.45,3.1),(103.55,3.15),(103.68,3.15),(103.8,3.05),(103.93,3.1),(104.02,3.1),(104.12,3.1),(104.28,3.0),(104.42,3.15),(104.58,3.1),(104.75,3.15),(104.83,3.25),(104.9,3.05),(105.0,3.05),(105.12,3.0),(105.22,3.1),(105.38,2.9),(105.55,3.1),(105.7,3.05),(105.85,2.85),(106.25,3.15),(106.3,3.4),(106.38,3.7),(106.43,3.55),(106.5,3.7),(106.57,3.8),(106.63,3.7),(106.7,3.6),(106.75,3.45),(106.82,3.35),(106.9,3.45),(106.97,3.35),(107.05,3.2),(107.12,2.85)]

PTS = dict(A=A_pts, B=B_pts + B_more, C=C_pts + C_more, D=D_pts + D_more, E=E_pts + E_more)
HI = dict(A=A_hi, B=B_hi, C=C_hi, D=D_hi, E=E_hi)
LO = dict(A=A_lo, B=B_lo, C=C_lo, D=D_lo, E=E_lo)
GAPS = dict(A=A_gaps, B=B_gaps, C=C_gaps, D=D_gaps, E=E_gaps)

W, H = 1960, 1429
# Frame and tick calibration in page pixels: left, right, top, bottom, x100, x107, y6, y0
GEOM = dict(A=(128, 851, 61.5, 297, 154, 807, 69.5, 289),
            B=(1225, 1945, 67, 305, 1250.5, 1901, 78, 296),
            C=(127, 850, 565, 802, 154, 804, 574, 793),
            D=(1233, 1957, 562, 797, 1259.5, 1911, 571, 789),
            E=(716, 1430, 1043, 1277, 742, 1385.5, 1052, 1268))
# Text positions in page pixels
TEXT_POS = dict(A=dict(letter=(21, 21), c12=(161, 36), chr=(801, 36), cn=(18, 190), xl=(489, 430)),
                B=dict(letter=(1120, 47), c12=(1261, 43), chr=(1895, 43), cn=(1132, 187), xl=(1584, 437)),
                C=dict(letter=(28, 535), c12=(160, 540), chr=(800, 540), cn=(19, 700), xl=(488, 934)),
                D=dict(letter=(1119, 540), c12=(1266, 536), chr=(1906, 536), cn=(1119, 685), xl=(1594, 932)),
                E=dict(letter=(606, 1026), c12=(749, 1018), chr=(1381, 1018), cn=(609, 1162), xl=(1071, 1409)))

GREY = "#666666"
TXT = "#3a3a3a"
FONT = "Liberation Sans"


def fx(px):
    return px / W


def fy(px):
    return 1 - px / H


fig = go.Figure()
layout = dict(width=W, height=H, margin=dict(l=0, r=0, t=0, b=0), paper_bgcolor="white",
              plot_bgcolor="white", showlegend=False, annotations=[], shapes=[])


def note(text, pos, size, family=FONT, angle=0):
    layout["annotations"].append(dict(text=text, x=fx(pos[0]), y=fy(pos[1]), xref="paper", yref="paper",
                                      showarrow=False, xanchor="center", yanchor="middle", textangle=angle,
                                      font=dict(family=family, size=size, color="#222222" if family != FONT else TXT)))


for i, p in enumerate(PANELS):
    L, R, T, B, x0, x7, y6, y0 = GEOM[p]
    sx = (x7 - x0) / 7
    sy = (y0 - y6) / 6
    sfx = "" if i == 0 else str(i + 1)
    xa, ya = "x" + sfx, "y" + sfx
    hi, lo = HI[p], LO[p]
    bx = BAND_X + BAND_X[::-1] + [BAND_X[0]]
    by = hi + lo[::-1] + [hi[0]]
    for g in GAPS[p]:
        # holes run the other way round so the fill leaves them white
        bx += [None, g[0], g[0], g[1], g[1], g[0]]
        by += [None, g[3], g[2], g[2], g[3], g[3]]
    fig.add_trace(go.Scatter(x=bx, y=by, mode="lines", fill="toself", fillcolor="#0000ff",
                             line=dict(color="#0000ff", width=0), xaxis=xa, yaxis=ya, hoverinfo="skip"))
    fig.add_trace(go.Scatter(x=[q[0] for q in PTS[p]], y=[q[1] for q in PTS[p]], mode="markers",
                             marker=dict(color="#0505c8", size=6.5), xaxis=xa, yaxis=ya))
    layout["xaxis" + sfx] = dict(domain=[fx(L), fx(R)], range=[100 + (L - x0) / sx, 100 + (R - x0) / sx],
                                 anchor=ya, tickmode="array", tickvals=X_TICKS, ticks="outside", ticklen=21,
                                 tickwidth=2, tickcolor=GREY, showline=True, mirror=True, linecolor=GREY, linewidth=2.5,
                                 showgrid=False, zeroline=False, ticklabelstandoff=5,
                                 tickfont=dict(family=FONT, size=30, color=TXT))
    layout["yaxis" + sfx] = dict(domain=[fy(B), fy(T)], range=[(y0 - B) / sy, (y0 - T) / sy],
                                 anchor=xa, tickmode="array", tickvals=Y_TICKS, ticktext=Y_TICK_TEXT, ticks="outside",
                                 ticklen=18, tickwidth=2.5, tickcolor=GREY, showline=True, mirror=True, linecolor=GREY,
                                 linewidth=2.5, showgrid=False, zeroline=False, tickangle=-90, ticklabelstandoff=16,
                                 tickfont=dict(family=FONT, size=30, color=TXT))
    for t in THRESHOLDS:
        layout["shapes"].append(dict(type="line", xref=xa + " domain", yref=ya, x0=0, x1=1, y0=t, y1=t, layer="above",
                                     line=dict(color="rgba(185,45,50,0.62)", width=2.5)))
    pos = TEXT_POS[p]
    note(p, pos["letter"], 38, family="Noto Sans")
    note("C12", pos["c12"], 33)
    note("Chr14", pos["chr"], 32)
    note("CN", pos["cn"], 29, angle=-90)
    note("pos/1e+06", pos["xl"], 32)

fig.update_layout(**layout)
# Drop the browser's default page margin so the figure fills the window exactly; no toolbar.
fig.write_html("out.html", config={"displayModeBar": False},
               post_script="document.body.style.margin='0';document.body.style.overflow='hidden';")
